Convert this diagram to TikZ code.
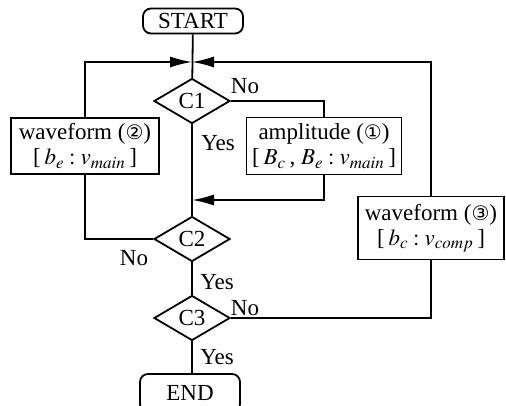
\documentclass[tikz,border=0pt]{standalone}
\usepackage{mathptmx}
\usepackage[no-math]{fontspec}
\setmainfont{Liberation Serif}
\newfontfamily\circfont{DejaVu Sans}
\usetikzlibrary{shapes.geometric,arrows.meta}
\DeclareMathSizes{23}{23}{17}{13}
\newcommand{\cnum}[1]{{\circfont\fontsize{20}{23}\selectfont #1}}
\begin{document}
\begin{tikzpicture}[x=1pt,y=-1pt,
  font=\fontsize{23}{25}\selectfont, line width=1.8pt,
  box/.style={draw, rectangle, inner sep=0pt, align=center},
  dec/.style={draw, diamond, inner sep=0pt, minimum width=76pt, minimum height=45pt},
  term/.style={draw, rectangle, rounded corners=8pt, inner sep=0pt},
  arr/.style={-{Latex[length=22pt,width=11pt]}},
  lab/.style={inner sep=0pt}]
\useasboundingbox (0,0) rectangle (506,406);

\node[term, minimum width=100pt, minimum height=25pt] (start) at (193,21) {START};
\node[dec] (c1) at (192,101) {\makebox[0pt]{C1}};
\node[dec] (c2) at (192,239) {\makebox[0pt]{C2}};
\node[dec] (c3) at (192,318) {\makebox[0pt]{C3}};
\node[box, minimum width=155pt, minimum height=57pt] (amp) at (324,146)
  {amplitude (\cnum{①})\\ {[}\,$B_c$\,, $B_e : v_{main}$\,{]}};
\node[box, minimum width=148pt, minimum height=56pt] (w2) at (85,146)
  {waveform (\cnum{②})\\ {[}\,$b_e : v_{main}$\,{]}};
\node[box, minimum width=146pt, minimum height=63pt] (w3) at (431,228)
  {waveform (\cnum{③})\\ {[}\,$b_c : v_{comp}$\,{]}};
\node[term, minimum width=100pt, minimum height=38pt] (end) at (190,393) {END};

\coordinate (m1) at (192,62);
\coordinate (m2) at (192,200);

\draw (start) -- (c1);
\draw (c1) -- (c2);
\draw (c2) -- (c3);
\draw (c3.south) -- (c3.south |- end.north);
\draw (c1.east) -| (amp.north);
\draw[arr] (amp.south) |- (m2);
\draw[arr] (w2.north) |- (m1);
\draw (w2.south) |- (c2.west);
\draw (c3.east) -| (w3.south);
\draw[arr] (w3.north) |- (m1);

\node[lab] (n1) at (245,86) {No};
\node[lab] (y1) at (218,143) {Yes};
\node[lab] (n2) at (134,258) {No};
\node[lab] (y2) at (217,282) {Yes};
\node[lab] (n3) at (245,308) {No};
\node[lab] (y3) at (217,357) {Yes};
\end{tikzpicture}
\end{document}
